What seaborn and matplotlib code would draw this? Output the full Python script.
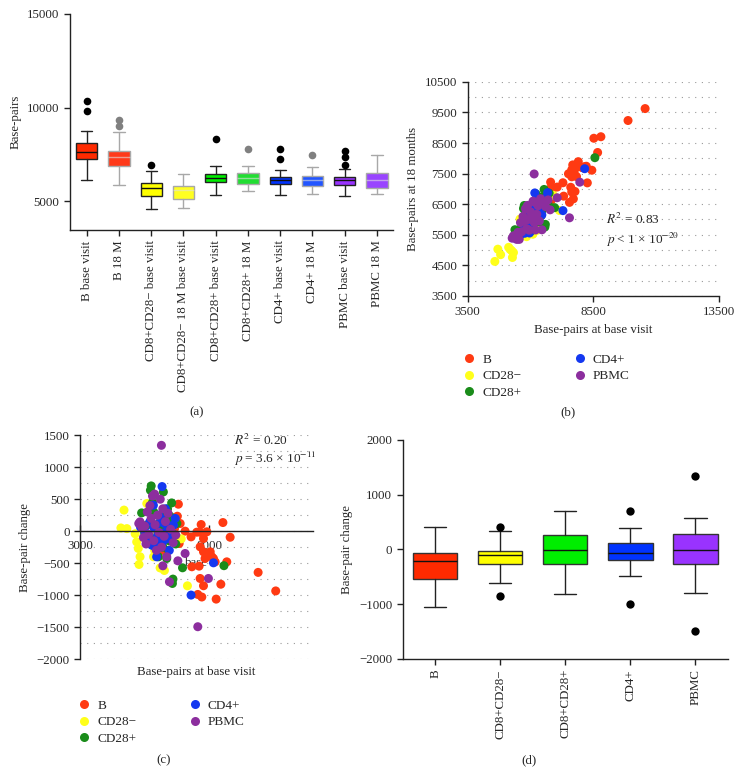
import matplotlib
matplotlib.use("Agg")
import matplotlib.pyplot as plt
from matplotlib.lines import Line2D
from matplotlib.ticker import MultipleLocator
import pandas as pd
import seaborn as sns

# ---- panel (a): base-pairs per cell type, base visit vs 18 months ----
a_labels = ["B base visit", "B 18 M", "CD8+CD28\u2212 base visit",
            "CD8+CD28\u2212 18 M base visit", "CD8+CD28+ base visit",
            "CD8+CD28+ 18 M", "CD4+ base visit", "CD4+ 18 M",
            "PBMC base visit", "PBMC 18 M"]
a_whislo = [6143, 5859, 4557, 4611, 5323, 5554, 5339, 5393, 5270, 5377]
a_q1 = [7236, 6861, 5254, 5093, 6004, 5929, 5897, 5805, 5859, 5714]
a_med = [7643, 7375, 5682, 5591, 6250, 6250, 6111, 6111, 6111, 6127]
a_q3 = [8109, 7680, 5982, 5805, 6464, 6518, 6271, 6325, 6271, 6486]
a_whishi = [8752, 8682, 6593, 6432, 6893, 6893, 6679, 6823, 6732, 7466]
a_fliers = [[9839, 10343], [9020, 9357], [6914], [], [8323], [7788],
            [7236, 7771], [7466], [6946, 7375, 7680], []]

# ---- panel (d): base-pair change per cell type ----
d_labels = ["B", "CD8+CD28\u2212", "CD8+CD28+", "CD4+", "PBMC"]
d_whislo = [-1060, -610, -817, -494, -793]
d_q1 = [-548, -274, -263, -196, -269]
d_med = [-219, -110, -18, -68, -18]
d_q3 = [-73, -26, 267, 115, 280]
d_whishi = [413, 329, 700, 384, 578]
d_fliers = [[], [413, -848], [], [694, -1006], [1340, -1488]]

# ---- panels (b)/(c): individual samples, base visit and change ----
cell_names = ["B", "CD28\u2212", "CD28+", "CD4+", "PBMC"]
b_base = [10560, 9880, 8800, 8520, 8670, 8440, 8260, 8220, 8155, 8090, 8030,
          7900, 7830, 7770, 7770, 7770, 7705, 7680, 7640, 7640, 7640, 7600,
          7550, 7510, 7320, 7290, 7060, 6870, 6830, 6800, 6760, 6650, 6450, 6200]
b_change = [-935, -645, -95, 135, -480, -830, -1063, -480, -427, -400, -323,
            -10, -427, -323, -115, -854, -1030, 104, -16, -245, -740, -547,
            -990, -16, -557, -89, 0, 120, -193, 422, 234, 40, -150, -300]
y_base = [4580, 4700, 4810, 5130, 5190, 5250, 5280, 5320, 5580, 5700, 5750,
          5800, 5840, 5880, 5920, 5960, 6000, 6050, 6094, 6150, 6260, 6350,
          6450, 6590, 6910, 7150]
y_change = [50, 330, 40, -40, -167, -270, -521, -400, 433, -100, -200, -50,
            -401, -300, -110, -60, -200, -250, -575, -30, -615, -150, -90,
            -120, -120, -855]
g_base = [8560, 6960, 6590, 6570, 5750, 5720, 6220, 6540, 6480, 5380, 6740,
          6030, 6350, 6420, 5600, 5700, 5850, 5950, 6050, 6100, 6150, 6200,
          6250, 6300, 6380, 6450, 6500, 6620, 6700, 5500, 5800, 6000]
g_change = [-540, -573, -750, -818, 708, 640, 614, 442, 234, 286, 120, -401,
            -427, -300, 100, -100, 300, -200, 50, 150, -50, -250, 250, 50,
            350, -150, 200, -50, -200, -30, 450, -120]
c_base = [6170, 8155, 7290, 5835, 6610, 5770, 5960, 5500, 5600, 5700, 5750,
          5850, 5900, 5950, 6000, 6050, 6100, 6130, 6180, 6220, 6260, 6300,
          6350, 6400, 6450, 6500, 6550, 6680, 5340, 6050]
c_change = [698, -495, -1000, 406, 94, -219, -401, 0, -100, 150, -150, 50,
            -250, 100, -60, 250, -80, 200, -180, -30, 120, 350, -120, 30,
            -300, 80, -50, 200, 60, -200]
p_base = [6145, 7550, 7960, 7060, 6780, 6455, 6200, 5320, 5400, 5450, 5500,
          5550, 5600, 5650, 5700, 5750, 5800, 5850, 5900, 5950, 6000, 6050,
          6100, 6150, 6200, 6250, 6300, 6350, 6400, 6500, 6600, 5270, 6700, 5880]
p_change = [1343, -1495, -740, -349, -464, -792, -542, 146, 50, -100, 80,
            -200, 300, -50, 400, 200, 550, -150, 100, -300, 250, -20, 500,
            -250, 350, -80, 150, -400, 280, 30, -180, 120, -60, 580]

dot_colors = ["#ff3a12", "#ffff1a", "#1a8c1a", "#1438f0", "#8c2e9e"]
box_colors = ["#ff2a00", "#ffff00", "#00ee00", "#0033ff", "#9933ff"]
box_colors_18m = ["#ff3a1a", "#ffff22", "#22dd33", "#2255ff", "#9944ff"]

frames = []
for name, base, change in zip(cell_names, [b_base, y_base, g_base, c_base, p_base],
                              [b_change, y_change, g_change, c_change, p_change]):
    df = pd.DataFrame({"base": base, "change": change})
    df["m18"] = df["base"] + df["change"]
    df["cell"] = name
    frames.append(df)
pts = pd.concat(frames, ignore_index=True)
palette = dict(zip(cell_names, dot_colors))

FS = 9.3
sns.set_style("ticks")
plt.rcParams["font.family"] = ["Liberation Serif", "DejaVu Serif"]
plt.rcParams["mathtext.fontset"] = "stix"
plt.rcParams["font.size"] = FS
plt.rcParams["axes.edgecolor"] = "#222222"
plt.rcParams["axes.linewidth"] = 1.0

W, H = 742, 774
fig = plt.figure(figsize=(W / 100, H / 100), dpi=100)


def rect(l, t, r, b):
    return [l / W, 1 - b / H, (r - l) / W, (b - t) / H]


def stats(lo, q1, med, q3, hi, fl, labels):
    return [dict(whislo=a, q1=b, med=c, q3=d, whishi=e, fliers=f, label=g)
            for a, b, c, d, e, f, g in zip(lo, q1, med, q3, hi, fl, labels)]


def style_axes(ax):
    sns.despine(ax=ax)
    ax.tick_params(length=4, width=1.0, color="#222222", labelsize=FS)


# (a)
ax = fig.add_axes(rect(70, 14, 393, 230))
bp = ax.bxp(stats(a_whislo, a_q1, a_med, a_q3, a_whishi, a_fliers, a_labels),
            positions=range(10), widths=0.66, capwidths=0.35, patch_artist=True)
for i, box in enumerate(bp["boxes"]):
    base = i % 2 == 0
    fc = box_colors[i // 2] if base else box_colors_18m[i // 2]
    ec = "#222222" if base else "#a8a8a8"
    box.set(facecolor=fc, edgecolor=ec, linewidth=1.0)
    bp["medians"][i].set(color="#111111" if base else "#e0e0e0", linewidth=1.0,
                         alpha=1 if base else 0.6)
    for part in ("whiskers", "caps"):
        for ln in bp[part][2 * i:2 * i + 2]:
            ln.set(color=ec, linewidth=1.0)
    bp["fliers"][i].set(marker="o", markersize=5.5, markeredgewidth=0,
                        markerfacecolor="#000000" if base else "#808080")
ax.set_xlim(-0.52, 9.5)
ax.set_ylim(3450, 15000)
ax.set_yticks([5000, 10000, 15000])
ax.set_xticks(range(10))
ax.set_xticklabels(a_labels, rotation=90)
ax.set_ylabel("Base-pairs")
style_axes(ax)
fig.text(197 / W, 1 - 412 / H, "(a)", ha="center", va="center", fontsize=FS)

legend_handles = [Line2D([], [], marker="o", linestyle="", markersize=6.5,
                         markeredgewidth=0, color=c) for c in dot_colors]

# (b)
ax = fig.add_axes(rect(467.7, 81.8, 719, 296))
sns.scatterplot(data=pts, x="base", y="m18", hue="cell", palette=palette,
                s=42, linewidth=0, legend=False, ax=ax)
ax.set_xlim(3500, 13500)
ax.set_ylim(3500, 10500)
ax.set_xticks([3500, 8500, 13500])
ax.set_yticks(range(3500, 10501, 1000))
ax.yaxis.set_minor_locator(MultipleLocator(500))
ax.tick_params(axis="y", which="minor", length=0)
ax.grid(axis="y", which="both", linestyle=(0, (1, 5)), color="#999999", linewidth=0.8)
ax.set_axisbelow(True)
ax.set_xlabel("Base-pairs at base visit")
ax.set_ylabel("Base-pairs at 18 months")
style_axes(ax)
ax.text(9000, 5656, "$R^2$ = 0.83\n$p$ < 1 \u00d7 10$^{\u221220}$", fontsize=9.5,
        va="center", linespacing=1.3)
fig.legend(legend_handles, cell_names, ncol=2, frameon=False, fontsize=9.5,
           loc="upper left", bbox_to_anchor=(452 / W, 1 - 342 / H),
           handlelength=0.8, handletextpad=0.6, columnspacing=4.0, labelspacing=0.3)
fig.text(568 / W, 1 - 412 / H, "(b)", ha="center", va="center", fontsize=FS)

# (c)
ax = fig.add_axes(rect(80, 435.3, 313, 659))
sns.scatterplot(data=pts, x="base", y="change", hue="cell", palette=palette,
                s=42, linewidth=0, legend=False, ax=ax)
ax.set_xlim(3000, 12000)
ax.set_ylim(-2000, 1500)
ax.spines["bottom"].set_position(("data", 0))
ax.set_xticks([3000, 8000])
ax.set_yticks(range(-2000, 1501, 500))
ax.yaxis.set_minor_locator(MultipleLocator(250))
ax.tick_params(axis="y", which="minor", length=0)
ax.grid(axis="y", which="both", linestyle=(0, (1, 5)), color="#999999", linewidth=0.8)
ax.set_axisbelow(True)
ax.set_ylabel("Base-pair change")
style_axes(ax)
ax.tick_params(axis="x", direction="in", pad=6)
ax.text(0.5, -0.058, "Base-pairs at base visit", transform=ax.transAxes,
        ha="center", va="center", fontsize=FS)
ax.text(8950, 1257, "$R^2$ = 0.20\n$p$ = 3.6 \u00d7 10$^{\u221211}$", fontsize=9.5,
        va="center", linespacing=1.15)
fig.legend(legend_handles, cell_names, ncol=2, frameon=False, fontsize=9.5,
           loc="upper left", bbox_to_anchor=(67 / W, 1 - 688 / H),
           handlelength=0.8, handletextpad=0.6, columnspacing=4.0, labelspacing=0.3)
fig.text(164 / W, 1 - 760 / H, "(c)", ha="center", va="center", fontsize=FS)

# (d)
ax = fig.add_axes(rect(402.7, 440, 728, 658.7))
bp = ax.bxp(stats(d_whislo, d_q1, d_med, d_q3, d_whishi, d_fliers, d_labels),
            positions=range(5), widths=0.68, capwidths=0.34, patch_artist=True)
for i, box in enumerate(bp["boxes"]):
    box.set(facecolor=box_colors[i], edgecolor="#333333", linewidth=1.0)
    bp["medians"][i].set(color="#111111", linewidth=1.0)
    bp["fliers"][i].set(marker="o", markersize=6, markeredgewidth=0,
                        markerfacecolor="#000000")
for part in ("whiskers", "caps"):
    for ln in bp[part]:
        ln.set(color="#222222", linewidth=1.0)
ax.set_xlim(-0.5, 4.5)
ax.set_ylim(-2000, 2000)
ax.set_yticks(range(-2000, 2001, 1000))
ax.set_xticks(range(5))
ax.set_xticklabels(d_labels, rotation=90)
ax.set_ylabel("Base-pair change")
style_axes(ax)
fig.text(529 / W, 1 - 760 / H, "(d)", ha="center", va="center", fontsize=FS)

fig.savefig("out.png", dpi=100)
